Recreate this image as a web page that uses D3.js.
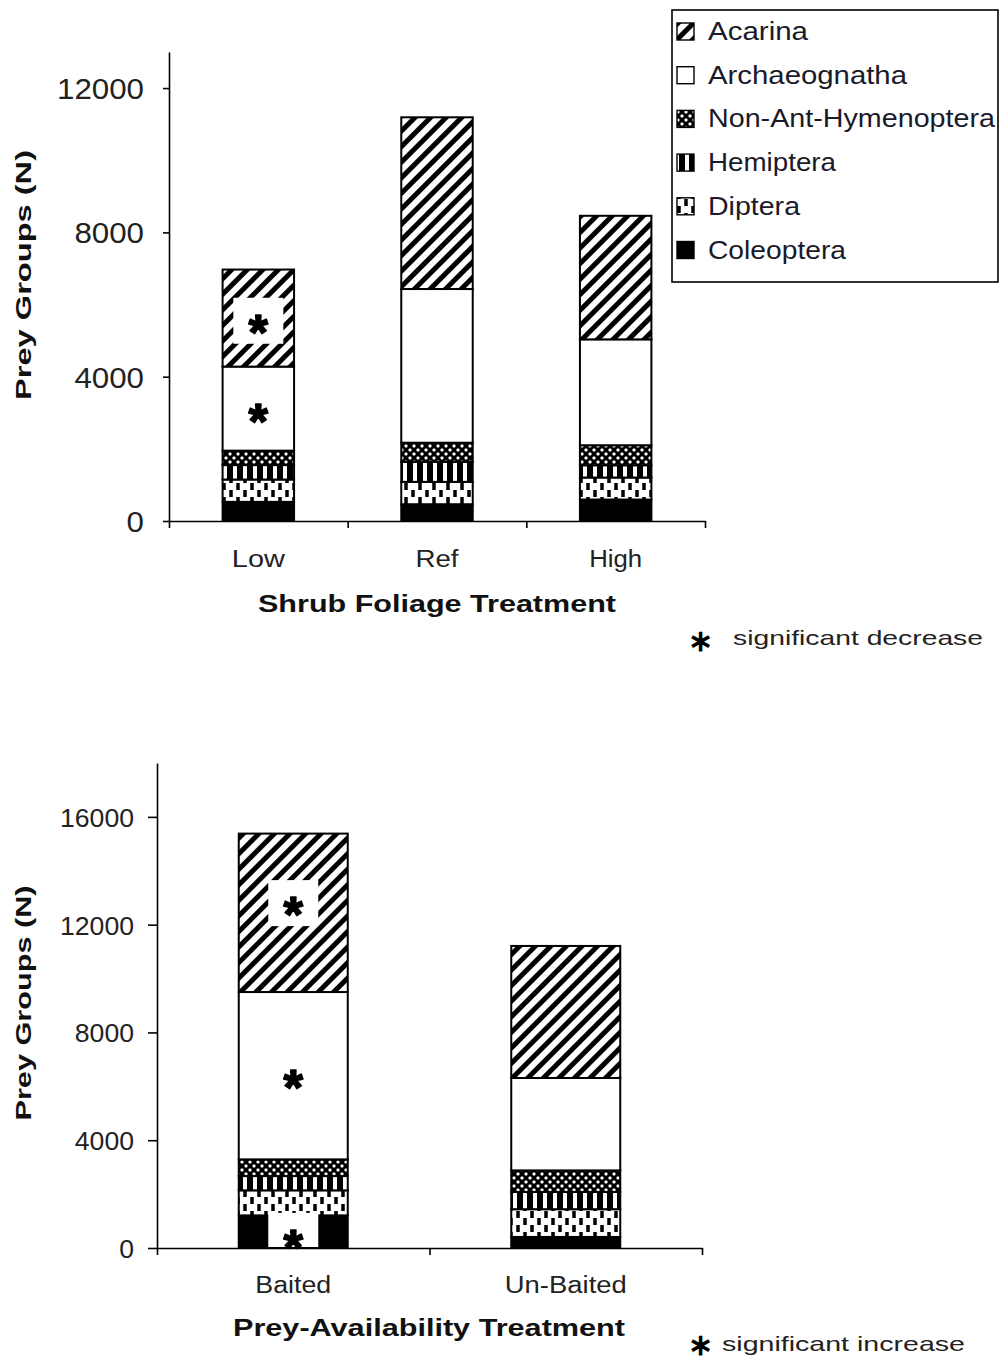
<!DOCTYPE html>
<html><head><meta charset="utf-8">
<script src="https://cdn.jsdelivr.net/npm/d3@7"></script>
<style>
body{margin:0;background:#fff}
svg{display:block}
text{font-family:"Liberation Sans",Arial,Helvetica,sans-serif;fill:#111}
</style>
</head><body>
<svg id="c" width="1001" height="1361"></svg>
<script>
// ---- data ----
const groups = ["Coleoptera","Diptera","Hemiptera","Non-Ant-Hymenoptera","Archaeognatha","Acarina"];

// Top panel: shrub foliage treatment
const foliageCategories = ["Low","Ref","High"];
const foliageColeoptera = [530, 465, 595];
const foliageDiptera = [620, 620, 610];
const foliageHemiptera = [400, 555, 340];
const foliageNonAntHymenoptera = [400, 530, 555];
const foliageArchaeognatha = [2330, 4260, 2935];
const foliageAcarina = [2690, 4760, 3425];
const foliageTicks = [0, 4000, 8000, 12000];
const foliageStars = [
  {category:"Low", group:"Acarina", value:5550},
  {category:"Low", group:"Archaeognatha", value:3080}
];

// Bottom panel: prey-availability treatment
const preyCategories = ["Baited","Un-Baited"];
const preyColeoptera = [1210, 410];
const preyDiptera = [930, 1030];
const preyHemiptera = [530, 640];
const preyNonAntHymenoptera = [620, 800];
const preyArchaeognatha = [6210, 3430];
const preyAcarina = [5880, 4900];
const preyTicks = [0, 4000, 8000, 12000, 16000];
const preyStars = [
  {category:"Baited", group:"Acarina", value:12800},
  {category:"Baited", group:"Archaeognatha", value:6400},
  {category:"Baited", group:"Coleoptera", value:450}
];

const legendOrder = ["Acarina","Archaeognatha","Non-Ant-Hymenoptera","Hemiptera","Diptera","Coleoptera"];

// ---- drawing ----
const svg = d3.select("#c");
const defs = svg.append("defs");

function pat(id, w, h, transform) {
  const p = defs.append("pattern").attr("id", id).attr("patternUnits","userSpaceOnUse")
    .attr("width", w).attr("height", h);
  if (transform) p.attr("patternTransform", transform);
  return p;
}
{ const p = pat("pAcarina", 11, 11, "rotate(45)");
  p.append("rect").attr("width",11).attr("height",11).attr("fill","#fff");
  p.append("rect").attr("width",5).attr("height",11).attr("fill","#000"); }
{ const p = pat("pNonAnt", 8, 8);
  p.append("rect").attr("width",8).attr("height",8).attr("fill","#000");
  p.append("rect").attr("x",0.5).attr("y",0.5).attr("width",3).attr("height",3).attr("rx",1).attr("fill","#fff");
  p.append("rect").attr("x",4.5).attr("y",4.5).attr("width",3).attr("height",3).attr("rx",1).attr("fill","#fff"); }
{ const p = pat("pHemiptera", 10, 10);
  p.append("rect").attr("width",10).attr("height",10).attr("fill","#000");
  p.append("rect").attr("x",3).attr("width",4).attr("height",10).attr("fill","#fff"); }
{ const p = pat("pDiptera", 14, 14);
  p.append("rect").attr("width",14).attr("height",14).attr("fill","#fff");
  p.append("rect").attr("x",5.25).attr("y",0).attr("width",3.5).attr("height",7).attr("fill","#000");
  p.append("rect").attr("x",-1.75).attr("y",7).attr("width",3.5).attr("height",7).attr("fill","#000");
  p.append("rect").attr("x",12.25).attr("y",7).attr("width",3.5).attr("height",7).attr("fill","#000"); }

const fills = {
  "Coleoptera":"#000",
  "Diptera":"url(#pDiptera)",
  "Hemiptera":"url(#pHemiptera)",
  "Non-Ant-Hymenoptera":"url(#pNonAnt)",
  "Archaeognatha":"#fff",
  "Acarina":"url(#pAcarina)"
};

function drawPanel(cfg) {
  const g = svg.append("g");
  const rows = cfg.categories.map((c, i) => {
    const r = {category: c};
    groups.forEach((gr, k) => r[gr] = cfg.series[k][i]);
    return r;
  });
  const stacked = d3.stack().keys(groups)(rows);
  const x = d3.scaleBand().domain(cfg.categories).range([cfg.x0, cfg.x1]);
  const y = d3.scaleLinear().domain([0, cfg.ymax]).range([cfg.yBase, cfg.yTop]);
  const bw = x.bandwidth() * 0.4;
  const bx = c => x(c) + (x.bandwidth() - bw) / 2;

  // bars
  stacked.forEach(layer => {
    g.append("g").selectAll("rect").data(layer).join("rect")
      .attr("x", d => bx(d.data.category))
      .attr("width", bw)
      .attr("y", d => y(d[1]))
      .attr("height", d => y(d[0]) - y(d[1]))
      .attr("fill", fills[layer.key])
      .attr("stroke", "#000").attr("stroke-width", 2);
  });

  // significance stars with white backgrounds
  cfg.stars.forEach(s => {
    const cx = bx(s.category) + bw / 2;
    const cy = y(s.value);
    const top = cy - 23;
    const bottom = Math.min(cy + 23, y(0) - 1);
    g.append("rect").attr("x", cx - 25).attr("width", 50)
      .attr("y", top).attr("height", bottom - top).attr("fill", "#fff");
    g.append("text").attr("x", cx).attr("y", cy + 29)
      .attr("text-anchor","middle").attr("font-size", 50).attr("font-weight","bold")
      .attr("font-family", "'DejaVu Sans', sans-serif")
      .attr("stroke", "#000").attr("stroke-width", 1.6).attr("stroke-linejoin","round")
      .style("fill","#000").text("*");
  });

  // y axis
  const ya = g.append("g").attr("transform", `translate(${cfg.x0},0)`)
    .call(d3.axisLeft(y).tickValues(cfg.ticks).tickFormat(d3.format("d"))
      .tickSize(cfg.tickSize).tickPadding(cfg.tickPad).tickSizeOuter(0));
  ya.select(".domain").attr("stroke","#000").attr("stroke-width",1.6);
  ya.selectAll(".tick line").attr("stroke","#000").attr("stroke-width",1.6);
  ya.selectAll(".tick text").attr("font-size", cfg.tickFont).attr("font-family", null)
    .attr("textLength", d => String(d).length * cfg.digitW).attr("lengthAdjust","spacingAndGlyphs")
    .attr("dy","0.36em").style("fill","#222");

  // x axis line with boundary ticks
  const xe = d3.scaleLinear().domain([0, cfg.categories.length]).range([cfg.x0, cfg.x1]);
  const xa = g.append("g").attr("transform", `translate(0,${cfg.yBase})`)
    .call(d3.axisBottom(xe).tickValues(d3.range(cfg.categories.length + 1)).tickFormat("")
      .tickSize(7).tickSizeOuter(0));
  xa.select(".domain").attr("stroke","#000").attr("stroke-width",1.6);
  xa.selectAll(".tick line").attr("stroke","#000").attr("stroke-width",1.6);

  // category labels
  const xl = g.append("g").attr("transform", `translate(0,${cfg.catY})`)
    .call(d3.axisBottom(x).tickSize(0).tickPadding(0));
  xl.select(".domain").remove();
  xl.selectAll(".tick text").attr("font-size", 23).attr("font-family", null).attr("dy", 0)
    .attr("textLength", (d, i) => cfg.catW[i]).attr("lengthAdjust","spacingAndGlyphs")
    .style("fill","#222");

  // axis titles
  g.append("text").attr("x", cfg.titleX).attr("y", cfg.titleY).attr("text-anchor","middle")
    .attr("font-size", 24).attr("font-weight","bold")
    .attr("textLength", cfg.titleW).attr("lengthAdjust","spacingAndGlyphs").text(cfg.title);
  g.append("text").attr("transform", `translate(31,${cfg.yTitleY}) rotate(-90)`)
    .attr("text-anchor","middle").attr("font-size", 22).attr("font-weight","bold")
    .attr("textLength", cfg.yTitleW).attr("lengthAdjust","spacingAndGlyphs").text("Prey Groups (N)");

  // note
  g.append("text").attr("x", cfg.noteStarX).attr("y", cfg.noteStarY).attr("text-anchor","middle")
    .attr("font-size", 30).attr("font-weight","bold")
    .attr("font-family", "'DejaVu Sans', sans-serif")
    .style("fill","#000").text("\u2217");
  g.append("text").attr("x", cfg.noteX).attr("y", cfg.noteY).attr("font-size", 21)
    .attr("textLength", cfg.noteW).attr("lengthAdjust","spacingAndGlyphs").style("fill","#222").text(cfg.note);
}

drawPanel({
  categories: foliageCategories,
  series: [foliageColeoptera, foliageDiptera, foliageHemiptera, foliageNonAntHymenoptera, foliageArchaeognatha, foliageAcarina],
  ticks: foliageTicks, stars: foliageStars,
  ymax: 13000, x0: 169, x1: 705, yBase: 521, yTop: 52,
  tickSize: 6, tickPad: 19, tickFont: 29, digitW: 17.4,
  catY: 567, catW: [53, 43, 53],
  title: "Shrub Foliage Treatment", titleX: 437, titleY: 612, titleW: 358,
  yTitleY: 275, yTitleW: 250,
  note: "significant decrease", noteX: 733, noteY: 645, noteW: 250, noteStarX: 700, noteStarY: 651
});

drawPanel({
  categories: preyCategories,
  series: [preyColeoptera, preyDiptera, preyHemiptera, preyNonAntHymenoptera, preyArchaeognatha, preyAcarina],
  ticks: preyTicks, stars: preyStars,
  ymax: 18000, x0: 157, x1: 702, yBase: 1248, yTop: 763,
  tickSize: 9, tickPad: 14, tickFont: 26, digitW: 14.8,
  catY: 1293, catW: [76, 122],
  title: "Prey-Availability Treatment", titleX: 429, titleY: 1336, titleW: 392,
  yTitleY: 1003, yTitleW: 235,
  note: "significant increase", noteX: 722, noteY: 1351, noteW: 243, noteStarX: 700, noteStarY: 1355
});

// legend
const lg = svg.append("g").attr("transform","translate(672,10)");
lg.append("rect").attr("width",326).attr("height",272).attr("fill","#fff")
  .attr("stroke","#000").attr("stroke-width",1.6);
const legendW = [100, 199, 287, 128, 92, 138];
legendOrder.forEach((name, i) => {
  const by = 30 + i * 43.7;
  lg.append("rect").attr("x",5).attr("y",by - 17).attr("width",17).attr("height",17)
    .attr("fill", fills[name]).attr("stroke","#000").attr("stroke-width",1.4);
  lg.append("text").attr("x",36).attr("y",by).attr("font-size",25)
    .attr("textLength", legendW[i]).attr("lengthAdjust","spacingAndGlyphs")
    .style("fill","#1a1a2a").text(name);
});
</script>
</body></html>
